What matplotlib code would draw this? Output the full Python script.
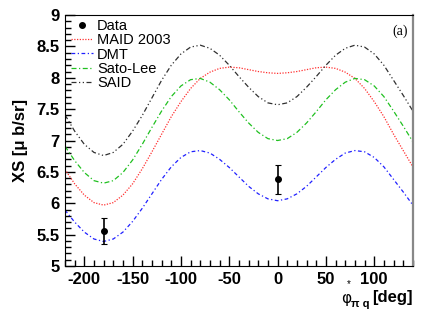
import matplotlib
matplotlib.use("Agg")
import matplotlib.pyplot as plt
from matplotlib.lines import Line2D
from matplotlib.ticker import MultipleLocator

plt.rcParams["axes.unicode_minus"] = False

phi = [-220, -210, -200, -190, -180, -170, -160, -150, -140, -130, -120, -110,
       -100, -90, -80, -70, -60, -50, -40, -30, -20, -10, 0, 10, 20, 30, 40,
       50, 60, 70, 80, 90, 100, 110, 120, 130, 140]

maid = [6.54, 6.31, 6.13, 6.01, 5.97, 6.01, 6.13, 6.31, 6.55, 6.82, 7.10, 7.38,
        7.62, 7.83, 7.99, 8.09, 8.15, 8.17, 8.16, 8.13, 8.10, 8.08, 8.07, 8.08,
        8.10, 8.13, 8.16, 8.17, 8.15, 8.09, 7.99, 7.83, 7.62, 7.38, 7.10, 6.84, 6.58]
dmt = [5.89, 5.70, 5.54, 5.43, 5.39, 5.43, 5.54, 5.71, 5.92, 6.15, 6.38, 6.58,
       6.73, 6.82, 6.84, 6.80, 6.70, 6.57, 6.42, 6.27, 6.15, 6.07, 6.04, 6.07,
       6.15, 6.27, 6.42, 6.57, 6.70, 6.80, 6.84, 6.82, 6.73, 6.58, 6.38, 6.18, 5.97]
satolee = [6.91, 6.68, 6.49, 6.36, 6.32, 6.36, 6.49, 6.69, 6.94, 7.21, 7.47, 7.70,
           7.87, 7.97, 7.99, 7.93, 7.81, 7.65, 7.46, 7.28, 7.13, 7.03, 7.00, 7.03,
           7.13, 7.28, 7.46, 7.65, 7.81, 7.93, 7.99, 7.97, 7.87, 7.70, 7.47, 7.23, 6.98]
said = [7.41, 7.15, 6.94, 6.81, 6.76, 6.81, 6.94, 7.15, 7.40, 7.68, 7.96, 8.20,
        8.38, 8.49, 8.52, 8.47, 8.36, 8.20, 8.02, 7.85, 7.70, 7.60, 7.57, 7.60,
        7.70, 7.85, 8.02, 8.20, 8.36, 8.47, 8.52, 8.49, 8.38, 8.20, 7.96, 7.72, 7.47]

data_phi = [-180, 0]
data_xs = [5.56, 6.38]
data_err = [0.21, 0.23]

fig = plt.figure(figsize=(4.36, 3.14), dpi=100)
ax = fig.add_axes([0.149, 0.153, 0.798, 0.799])

ax.plot(phi, maid, color="#ff3030", lw=0.9, ls=(0, (1, 1.2)), label="MAID 2003")
ax.plot(phi, dmt, color="#2020ff", lw=0.9, ls=(0, (3, 2, 1, 2)), label="DMT")
ax.plot(phi, satolee, color="#20c020", lw=0.9, ls=(0, (4, 2, 1, 2)), label="Sato-Lee")
ax.plot(phi, said, color="#303030", lw=0.9, ls=(0, (4, 2, 1, 2, 1, 2)), label="SAID")
ax.errorbar(data_phi, data_xs, yerr=data_err, fmt="o", color="black", ms=4,
            capsize=2.5, elinewidth=1.2, capthick=0.8)

ax.set_xlim(-220, 140)
ax.set_ylim(5, 9)
ax.xaxis.set_major_locator(MultipleLocator(50))
ax.xaxis.set_minor_locator(MultipleLocator(10))
ax.yaxis.set_major_locator(MultipleLocator(0.5))
ax.yaxis.set_minor_locator(MultipleLocator(0.1))
ax.tick_params(which="both", direction="in", top=False, right=False,
               labelsize=12, width=1.0)
ax.tick_params(which="major", length=7, pad=4)
ax.tick_params(which="minor", length=4)
ax.yaxis.set_major_formatter(matplotlib.ticker.FuncFormatter(
    lambda v, p: ("%g" % v)))
for lab in ax.get_xticklabels() + ax.get_yticklabels():
    lab.set_fontweight("bold")
    lab.set_fontfamily("Liberation Sans")
ax.spines["right"].set_color("#888888")
ax.spines["right"].set_linewidth(1.6)

ax.set_ylabel("XS [\u03bc b/sr]", fontsize=12, fontweight="bold",
              fontfamily="Liberation Sans", labelpad=6)

handles = [Line2D([], [], marker="o", ls="none", color="black", ms=4)]
h, l = ax.get_legend_handles_labels()
leg = ax.legend(handles + h, ["Data"] + l, loc="upper left",
                bbox_to_anchor=(-0.012, 1.025), frameon=False,
                prop={"family": "Liberation Sans", "size": 10.5},
                handlelength=1.5, handletextpad=0.3, labelspacing=0.02,
                borderaxespad=0.3)

ax.text(0.985, 0.935, "(a)", transform=ax.transAxes, ha="right", va="center",
        fontsize=10, fontfamily="Liberation Serif")

# x label pieces
fig.text(0.794, 0.050, "\u03c6", fontsize=11, fontfamily="DejaVu Sans",
         ha="center", va="center")
fig.text(0.800, 0.095, "*", fontsize=7, fontfamily="Liberation Sans",
         ha="center", va="center")
fig.text(0.826, 0.031, "\u03c0 q", fontsize=8, fontfamily="Liberation Sans",
         fontweight="bold", ha="center", va="center")
fig.text(0.947, 0.054, "[deg]", fontsize=12, fontfamily="Liberation Sans",
         fontweight="bold", ha="right", va="center")

fig.savefig("out.png", dpi=100)
